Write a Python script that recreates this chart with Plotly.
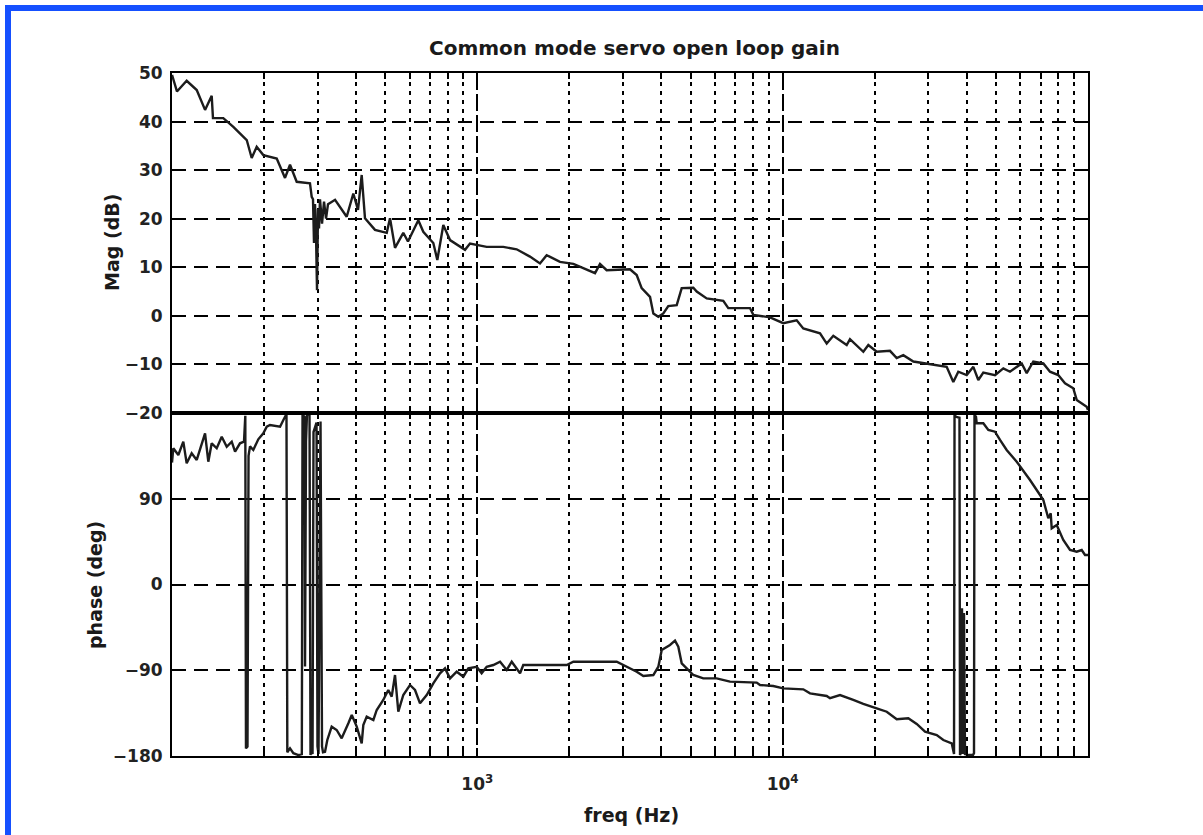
import plotly.graph_objects as go

# ---------------- data ----------------
mag_freq_hz = [100, 103.8, 111.7, 120.5, 128.3, 134.9, 136.2, 147.2, 158.8, 175.7,
               182.4, 189.4, 199.1, 220.3, 234.5, 243.5, 256.1, 283.1, 286.8, 289.6,
               291.8, 294.0, 296.2, 298.5, 300.8, 303.0, 305.3, 310.0, 314.7, 319.5,
               324.3, 342, 373.4, 392.5, 406.6, 418.1, 428.6, 462.2, 505, 517.6,
               537.5, 572.1, 592.7, 640.8, 665.3, 717.5, 739.5, 773.7, 813.9, 911.3,
               946.2, 1073, 1216, 1345, 1487, 1604, 1687, 1865, 2063, 2429,
               2522, 2652, 3162, 3326, 3453, 3678, 3771, 3916, 4066, 4221,
               4498, 4670, 5097, 5230, 5639, 6391, 6636, 7816, 8014, 9089,
               10046, 11114, 11683, 13254, 13940, 14651, 16206, 16614, 18373, 19078,
               20323, 22464, 23630, 24839, 26794, 29639, 34446, 36218, 37601, 40063,
               42115, 43727, 45407, 49600, 52800, 55530, 60660, 62990, 66200, 71400,
               75080, 79900, 84080, 89480, 91830, 99010, 100000]
mag_db = [49.6, 46.2, 48.4, 46.5, 42.4, 45.3, 40.7, 40.7, 38.9, 36.2,
          32.5, 34.8, 33.1, 32.4, 28.4, 31.1, 27.6, 27.3, 24.5, 24.0,
          15.0, 23.0, 17.0, 5.3, 22.0, 18.0, 24.0, 19.0, 23.5, 20.0,
          23.0, 23.9, 20.4, 25.2, 21.8, 29.0, 20.1, 17.7, 17.1, 20.1,
          14.0, 17.1, 15.3, 19.7, 17.3, 15.0, 11.5, 18.7, 15.6, 13.6,
          14.9, 14.2, 14.2, 13.7, 12.2, 10.8, 12.5, 11.1, 10.7, 8.8,
          10.7, 9.4, 9.6, 8.4, 5.7, 3.9, 0.5, -0.2, 0.5, 2.0,
          2.2, 5.7, 5.8, 5.0, 3.6, 3.1, 1.6, 1.6, 0.2, -0.3,
          -1.5, -0.9, -2.6, -3.6, -5.7, -4.1, -6.0, -4.8, -7.4, -6.0,
          -7.4, -7.2, -8.7, -8.1, -9.4, -9.9, -10.5, -13.6, -11.5, -12.2,
          -10.5, -13.2, -11.7, -12.2, -10.8, -11.5, -9.8, -11.8, -9.4, -9.8,
          -11.5, -12.2, -13.9, -14.9, -17.3, -18.7, -19.4]

phase_freq_hz = [100, 101, 104.9, 108.9, 111.7, 116.0, 120.5, 123.5, 128.3, 131.5,
                 134.9, 140.1, 145.5, 151.1, 156.9, 160.9, 167.0, 172.1, 173.8, 174.7,
                 176.7, 178.1, 180.1, 184.6, 191.7, 199.1, 204.3, 209.4, 225.9, 231.6,
                 237.1, 238.6, 243.5, 249.7, 259.3, 266.2, 267.6, 271.6, 272.7, 274.7,
                 276.8, 282.1, 284.2, 286.4, 288.6, 290.7, 297.4, 299.6, 301.9, 306.5,
                 308.8, 310.0, 312.3, 317.1, 322.6, 333.4, 346.2, 359.5, 378.1, 387.9,
                 402.7, 418.1, 423.2, 434.2, 456.5, 468.3, 492.0, 511.0, 524.3, 537.5,
                 551.1, 572.2, 601.8, 625.0, 649.0, 682.7, 717.5, 754.7, 783.8, 813.9,
                 855.9, 899.9, 934.3, 995.3, 1033, 1073, 1128, 1187, 1248, 1296,
                 1380, 1414, 1962, 2063, 2861, 3085, 3327, 3497, 3771, 3916,
                 4017, 4276, 4440, 4552, 4670, 4850, 5097, 5495, 6080, 6722,
                 8222, 8430, 9318, 10046, 11683, 12290, 13940, 14290, 15410, 17030,
                 18370, 20320, 21920, 23630, 25790, 27480, 29260, 31960, 33590, 35780,
                 36140, 36410, 36550, 36960, 37940, 38090, 38520, 38660, 38960, 39250,
                 39550, 40760, 42010, 42330, 42490, 42970, 43200, 45410, 47160, 49590,
                 51500, 54150, 58420, 60660, 64570, 67920, 71400, 74130, 75490, 76060,
                 78980, 82990, 87330, 91830, 95370, 97770, 100000]
phase_deg = [128, 143, 135.9, 149.9, 127.2, 137.7, 130.7, 141.2, 158.7, 128.9,
             148.2, 143, 155.1, 144.6, 149.9, 139.4, 148.2, 150, 177, -172,
             -170, 135, 145, 141.2, 152.4, 158.7, 165.6, 167.4, 165.6, 172.7,
             179, -176, -172, -177, -179, -178, 178, 176, -86, 150,
             179, 178, -179, -175, -178, 160, 170, -170, -178, 171,
             14, -170, -176, -175.5, -163.2, -149.2, -152.7, -161.4, -145.7, -137,
             -149.2, -166.7, -147.5, -138.7, -142.2, -131.7, -121.2, -110.7, -117.7, -95,
             -133.5, -116, -105.5, -110.7, -124.7, -116, -103.7, -93.2, -88, -98.5,
             -91.5, -96.8, -88, -86.3, -93.2, -86.3, -84.5, -81, -89.7, -81,
             -93.2, -84.5, -84.5, -81, -81, -86.3, -91.5, -96, -95, -86.3,
             -68.7, -63.5, -59, -65.3, -82.7, -88, -95, -98.5, -98.5, -102,
             -103, -105.5, -106.5, -109, -110, -114.2, -117, -119.4, -116, -121.2,
             -125.4, -129.9, -133.5, -141.5, -140.4, -146.4, -154.5, -158, -163.2, -166.7,
             -172, -178, 178, 176, 175, -179, -175, -25, -178, -30,
             -178, -179, -179, -177, 178, 176.1, 169.2, 169.2, 162.2, 160.4,
             151.7, 141.2, 128.9, 122, 109.7, 99.2, 88.7, 69.5, 74.7, 59,
             62.5, 46.7, 36.2, 34.4, 36.2, 31, 31]

x_major_vals = [1000, 10000]
x_major_text = ["10<sup>3</sup>", "10<sup>4</sup>"]
x_minor_vals = [200, 300, 400, 500, 600, 700, 800, 900,
                2000, 3000, 4000, 5000, 6000, 7000, 8000, 9000,
                20000, 30000, 40000, 50000, 60000, 70000, 80000, 90000]
mag_ticks = [-20, -10, 0, 10, 20, 30, 40, 50]
mag_tick_text = ["\u221220", "\u221210", "0", "10", "20", "30", "40", "50"]
phase_ticks = [-180, -90, 0, 90]
phase_tick_text = ["\u2212180", "\u221290", "0", "90"]

title_text = "Common mode servo open loop gain"
mag_label = "Mag (dB)"
phase_label = "phase (deg)"
freq_label = "freq (Hz)"

# ---------------- figure ----------------
W, H = 1203, 835
L, R, T, B = 172, 1088, 73, 756
split = (B - 413) / (B - T)

FONT = "DejaVu Sans"
INK = "#1c1c1c"
TICKFONT = dict(family=FONT, size=17, color="#222222", weight="bold")


def px_x(px):
    return (px - L) / (R - L)


def px_y(py):
    return (B - py) / (B - T)


fig = go.Figure()
fig.add_trace(go.Scatter(x=mag_freq_hz, y=mag_db, mode="lines",
                         line=dict(color=INK, width=2.4), xaxis="x2", yaxis="y2",
                         showlegend=False, hoverinfo="skip"))
fig.add_trace(go.Scatter(x=phase_freq_hz, y=phase_deg, mode="lines",
                         line=dict(color=INK, width=2.4), xaxis="x", yaxis="y",
                         showlegend=False, hoverinfo="skip"))

xcommon = dict(type="log", range=[2, 5], showline=True, linecolor="black", linewidth=2,
               mirror="ticks", ticks="inside", ticklen=8, tickwidth=2, tickcolor="black",
               tickmode="array", tickvals=x_major_vals,
               showgrid=True, gridcolor="black", gridwidth=2, griddash="17px,4px",
               minor=dict(tickmode="array", tickvals=x_minor_vals, ticks="inside",
                          ticklen=6, tickwidth=2, tickcolor="black",
                          showgrid=True, gridcolor="black", gridwidth=2,
                          griddash="4px,5px"),
               zeroline=False, fixedrange=True)

ycommon = dict(showline=True, linecolor="black", linewidth=2, mirror="ticks",
               ticks="inside", ticklen=6, tickwidth=2, tickcolor="black",
               showgrid=True, gridcolor="black", gridwidth=2, griddash="14px,8px",
               zeroline=False, fixedrange=True, ticklabelstandoff=4, tickfont=TICKFONT,
               tickmode="array")

fig.update_layout(
    width=W, height=H,
    margin=dict(l=L, r=W - R, t=T, b=H - B, pad=0),
    paper_bgcolor="white", plot_bgcolor="white",
    font=dict(family=FONT, size=17, color="#222222"),
    xaxis=dict(**xcommon, domain=[0, 1], anchor="y", ticktext=x_major_text,
               showticklabels=True, ticklabelstandoff=12, tickfont=TICKFONT),
    xaxis2=dict(**xcommon, domain=[0, 1], anchor="y2", matches="x",
                ticktext=x_major_text, showticklabels=False),
    yaxis=dict(**ycommon, domain=[0, split], anchor="x", range=[-180, 180],
               tickvals=phase_ticks, ticktext=phase_tick_text),
    yaxis2=dict(**ycommon, domain=[split, 1], anchor="x2", range=[-20, 50],
                tickvals=mag_ticks, ticktext=mag_tick_text),
)

bold = dict(family=FONT, color="#1a1a1a", weight="bold")
fig.add_annotation(text=title_text, xref="paper", yref="paper", x=px_x(634), y=px_y(48),
                   showarrow=False, font=dict(**bold, size=20), xanchor="center", yanchor="middle")
fig.add_annotation(text=mag_label, xref="paper", yref="paper", x=px_x(112), y=px_y(243),
                   showarrow=False, textangle=-90, font=dict(**bold, size=19),
                   xanchor="center", yanchor="middle")
fig.add_annotation(text=phase_label, xref="paper", yref="paper", x=px_x(95), y=px_y(585),
                   showarrow=False, textangle=-90, font=dict(**bold, size=19),
                   xanchor="center", yanchor="middle")
fig.add_annotation(text=freq_label, xref="paper", yref="paper", x=px_x(631), y=px_y(815),
                   showarrow=False, font=dict(**bold, size=19),
                   xanchor="center", yanchor="middle")

# blue frame (top and left edges of the original screenshot)
BLUE = "#1550ff"
fig.add_shape(type="line", xref="paper", yref="paper", x0=px_x(5), x1=px_x(1203),
              y0=px_y(8), y1=px_y(8), line=dict(color=BLUE, width=6))
fig.add_shape(type="line", xref="paper", yref="paper", x0=px_x(8), x1=px_x(8),
              y0=px_y(5), y1=px_y(835), line=dict(color=BLUE, width=6))

fig.write_html("out.html")
